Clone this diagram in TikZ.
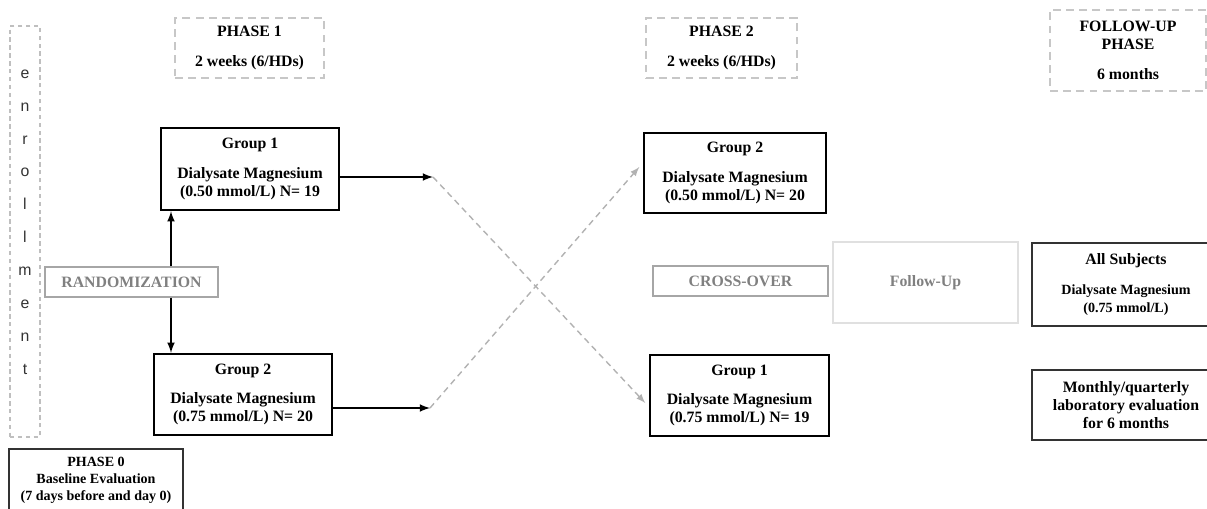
\documentclass[tikz,border=0pt]{standalone}
\usepackage{fontspec}
\setmainfont{Liberation Serif}
\newfontfamily\enrolfont{Liberation Sans}
\usetikzlibrary{arrows,calc}
\newcommand\smalltxt{\fontsize{8}{9.2}\selectfont}
\tikzset{
  phase/.style={draw=black!22, dash pattern=on 4.5pt off 3pt, line width=1pt, align=center, inner sep=0pt, font=\bfseries\fontsize{9}{10.2}\selectfont},
  grp/.style={draw, line width=1.4pt, align=center, inner sep=0pt, font=\bfseries\fontsize{9}{10.2}\selectfont},
  stage/.style={draw=black!35, line width=0.8pt, text=black!50, inner sep=0pt, font=\bfseries\fontsize{9}{10.2}\selectfont},
  info/.style={draw=black!80, line width=1pt, align=center, inner sep=0pt, font=\bfseries\fontsize{9}{10.2}\selectfont},
  link/.style={-latex, line width=1pt},
  swap/.style={-latex, dash pattern=on 3.5pt off 2.5pt, draw=black!30, line width=0.8pt}
}
\begin{document}
\begin{tikzpicture}[x=0.02cm,y=-0.02cm]
\useasboundingbox (0,0) rectangle (1207,508);
\clip (0,0) rectangle (1207,508);
%enrollment
\node[draw=black!25, dash pattern=on 2.5pt off 2pt, line width=0.8pt, minimum width=0.6cm, minimum height=8.22cm, inner sep=0pt] (enrol) at (25,231.5) {};
\node[font=\enrolfont\fontsize{9}{18.7}\selectfont, align=center, text=black!80] (enroltxt) at (25,222) {e\\n\\r\\o\\l\\l\\m\\e\\n\\t};
%phase headers
\node[phase, minimum width=2.98cm, minimum height=1.2cm] (ph1) at (249.5,48) {PHASE 1\\[6.5pt] 2 weeks (6/HDs)};
\node[phase, minimum width=3.02cm, minimum height=1.2cm] (ph2) at (721.5,48) {PHASE 2\\[6.5pt] 2 weeks (6/HDs)};
\node[phase, minimum width=3.12cm, minimum height=1.62cm] (phfu) at (1128,50.5) {FOLLOW-UP\\PHASE\\[7pt] 6 months};
%phase 0 and 1
\node[grp, minimum width=3.56cm, minimum height=1.64cm] (g1a) at (250,169) {Group 1\\[6.5pt] Dialysate Magnesium\\ (0.50 mmol/L) N= 19};
\node[grp, minimum width=3.56cm, minimum height=1.62cm] (g2a) at (243,394.5) {Group 2\\[6.5pt] Dialysate Magnesium\\ (0.75 mmol/L) N= 20};
\node[stage, minimum width=3.46cm, minimum height=0.6cm] (rand) at (131.5,282) {RANDOMIZATION};
\node[info, font=\bfseries\fontsize{8}{9.6}\selectfont, minimum width=3.48cm, minimum height=1.24cm] (ph0) at (96,480) {PHASE 0\\Baseline Evaluation\\(7 days before and day 0)};
%phase 2
\node[grp, minimum width=3.64cm, minimum height=1.6cm] (g2b) at (735,173) {Group 2\\[6.5pt] Dialysate Magnesium\\ (0.50 mmol/L) N= 20};
\node[stage, minimum width=3.5cm, minimum height=0.6cm] (cross) at (740.5,281) {CROSS-OVER};
\node[grp, minimum width=3.58cm, minimum height=1.62cm] (g1b) at (739.5,395.5) {Group 1\\[6.5pt] Dialysate Magnesium\\ (0.75 mmol/L) N= 19};
%follow-up
\node[stage, draw=black!12, line width=1.2pt, minimum width=3.7cm, minimum height=1.62cm] (fu) at (925.5,282.5) {Follow-Up};
\node[info, minimum width=3.76cm, minimum height=1.66cm] (all) at (1126,284.5) {All Subjects\\[6.5pt] {\smalltxt Dialysate Magnesium}\\ {\smalltxt (0.75 mmol/L)}};
\node[info, minimum width=3.76cm, minimum height=1.4cm] (month) at (1126,405) {Monthly/quarterly\\laboratory evaluation\\for 6 months};
%arrows
\coordinate (rx) at (171,0);
\coordinate (x1) at (433,177);
\coordinate (x2) at (430,408);
\coordinate (t1) at (0,403);
\coordinate (t2) at (0,167);
\draw[link] (rand.north -| rx) -- (g1a.south -| rx);
\draw[link] (rand.south -| rx) -- (g2a.north -| rx);
\draw[link] (g1a.east |- x1) -- (x1);
\draw[link] (g2a.east |- x2) -- (x2);
\draw[swap] (x1) -- ([xshift=-2pt]g1b.west |- t1);
\draw[swap] (x2) -- ([xshift=-2pt]g2b.west |- t2);
\end{tikzpicture}
\end{document}
